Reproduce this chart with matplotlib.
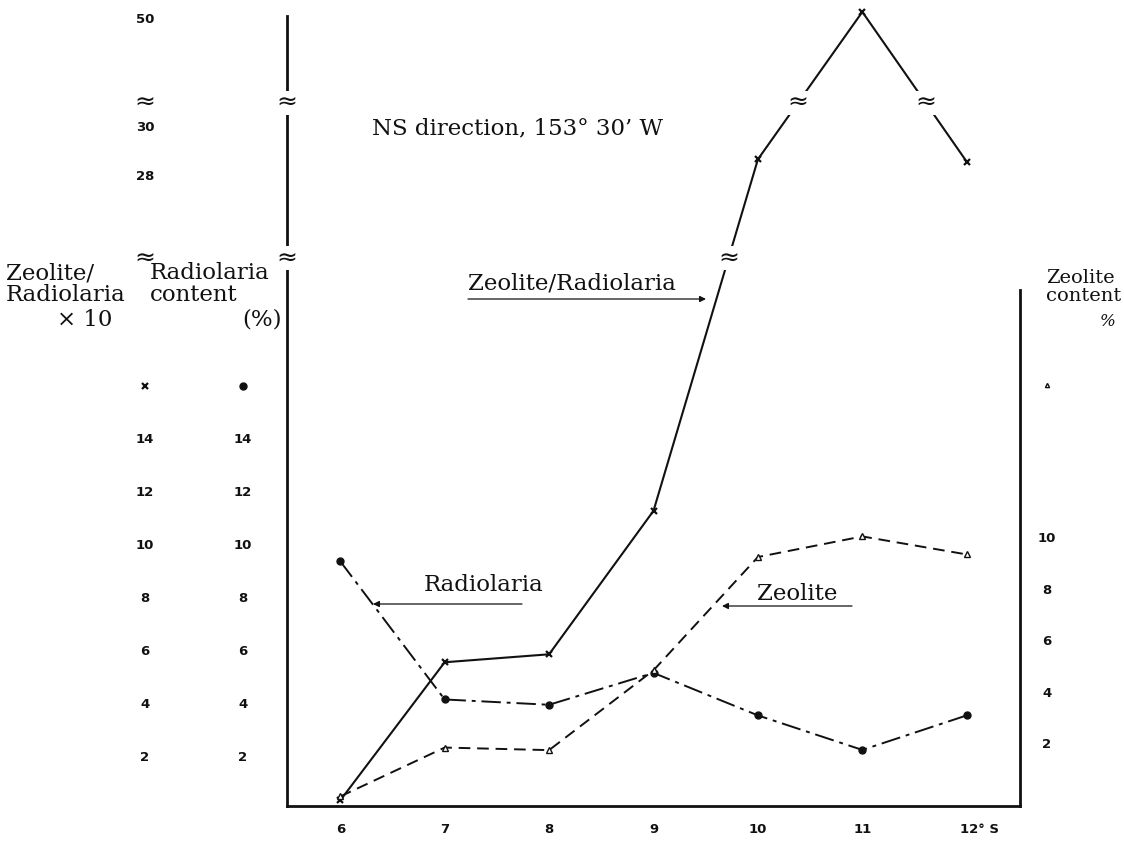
import numpy as np
import matplotlib
matplotlib.use("Agg")
import matplotlib.pyplot as plt
import matplotlib.transforms as mtransforms

# ---------------------------
# data
# ---------------------------
latitude = [6, 7, 8, 9, 10, 11, 12]
lat_labels = ["6", "7", "8", "9", "10", "11", "12° S"]
zeo_rad_x10 = [0.4, 5.6, 5.9, 11.3, 28.7, 50.3, 28.6]   # Zeolite/Radiolaria x 10
radiolaria = [9.4, 4.2, 4.0, 5.2, 3.6, 2.3, 3.6]         # Radiolaria content (%)
zeolite = [0.0, 1.9, 1.8, 4.9, 9.3, 10.1, 9.4]          # Zeolite content (%)

left_ticks = [2, 4, 6, 8, 10, 12, 14]
upper_ticks = [28, 30, 50]
right_ticks = [2, 4, 6, 8, 10]

# broken left axis: value -> height (px above the zero line)
brk_vals = [0, 20.8, 24.65, 31.0, 46.6, 55]
brk_h = [0, 553, 553.01, 708.5, 708.51, 915.5]


def fwd(v):
    return np.interp(v, brk_vals, brk_h)


def inv(h):
    return np.interp(h, brk_h, brk_vals)


W, H = 1124, 844


def fpos(x, y):
    # reference pixel -> figure fraction
    return x / W, 1 - y / H


fig = plt.figure(figsize=(W / 100, H / 100), dpi=100)
ax_l, ax_r, ax_b, ax_t = 287, 1020, 806, 5
ax = fig.add_axes([ax_l / W, 1 - ax_b / H, (ax_r - ax_l) / W, (ax_b - ax_t) / H])
ax.set_yscale("function", functions=(fwd, inv))
ax.set_xlim(5.49, 12.51)
ax.set_ylim(0.19, 50.58)

ax2 = ax.twinx()
ax2.set_ylim(-0.37, 30.74)

for a in (ax, ax2):
    a.patch.set_visible(False)
    for s in ("top", "right", "left", "bottom"):
        a.spines[s].set_visible(False)
    a.set_yticks([])

ink = "#111111"
ax.spines["left"].set_visible(True)
ax.spines["left"].set_bounds(0.19, 50.12)
ax.spines["bottom"].set_visible(True)
ax2.spines["right"].set_visible(True)
ax2.spines["right"].set_bounds(-0.37, 19.67)
for sp in (ax.spines["left"], ax.spines["bottom"], ax2.spines["right"]):
    sp.set_linewidth(2.0)
    sp.set_color(ink)

ax.set_xticks(latitude)
ax.set_xticklabels(lat_labels, fontsize=9.5, fontweight="bold", family="DejaVu Sans")
ax.tick_params(axis="x", length=0, pad=12, colors=ink)
last = ax.get_xticklabels()[-1]
last.set_transform(last.get_transform() + mtransforms.ScaledTranslation(9 / 72, 0, fig.dpi_scale_trans))

# series
ax.plot(latitude, zeo_rad_x10, color=ink, lw=1.5, marker="x", ms=4, mew=1.6)
ax.plot(latitude, radiolaria, color=ink, lw=1.4, dashes=(10, 3, 2, 3),
        marker="o", ms=5, mfc=ink, mec=ink)
ax2.plot(latitude, zeolite, color=ink, lw=1.4, dashes=(6, 3.5),
         marker="^", ms=4, mfc="white", mec=ink, mew=1.0)

# tick label columns
tick_font = dict(fontsize=9.5, fontweight="bold", family="DejaVu Sans", color=ink,
                 ha="center", va="center")
col1 = mtransforms.blended_transform_factory(ax.transAxes, ax.transData)
col_r = mtransforms.blended_transform_factory(ax.transAxes, ax2.transData)
x_c1 = (145 - ax_l) / (ax_r - ax_l)
x_c2 = (243 - ax_l) / (ax_r - ax_l)
x_cr = (1047 - ax_l) / (ax_r - ax_l)
for t in left_ticks:
    ax.text(x_c1, t, str(t), transform=col1, **tick_font)
    ax.text(x_c2, t, str(t), transform=col1, **tick_font)
for t in upper_ticks:
    ax.text(x_c1, t, str(t), transform=col1, **tick_font)
for t in right_ticks:
    ax.text(x_cr, t, str(t), transform=col_r, **tick_font)

# symbol keys above the tick columns
ax.plot([x_c1], [16], transform=col1, marker="x", ms=4, mew=1.6, color=ink, clip_on=False)
ax.plot([x_c2], [16], transform=col1, marker="o", ms=5, color=ink, clip_on=False)
ax2.plot([x_cr], [16], transform=col_r, marker="^", ms=3, mfc="white", mec=ink, clip_on=False)

# break marks
brk_font = dict(fontsize=18, color=ink, ha="center", va="center", family="DejaVu Sans")
low_break = 22.0   # any value inside the gap
high_break = 40.0
for yb in (low_break, high_break):
    ax.text(0, yb, "≈", transform=col1, bbox=dict(fc="white", ec="none", pad=0), **brk_font)
    ax.text(x_c1, yb, "≈", transform=col1, **brk_font)


def cross_point(i, yb):
    # where the segment i -> i+1 of zeo_rad_x10 meets the break height
    h0, h1 = fwd(zeo_rad_x10[i]), fwd(zeo_rad_x10[i + 1])
    t = (fwd(yb) - h0) / (h1 - h0)
    return latitude[i] + t * (latitude[i + 1] - latitude[i])


for i, yb in ((3, low_break), (4, high_break), (5, high_break)):
    ax.text(cross_point(i, yb), yb, "≈", bbox=dict(fc="white", ec="none", pad=0), **brk_font)

# text labels
serif = dict(family="DejaVu Serif", color=ink, fontsize=16.5)
fig.text(*fpos(372, 128), "NS direction, 153° 30’ W", va="center", ha="left", **serif)
fig.text(*fpos(6, 284), "Zeolite/\nRadiolaria", va="center", ha="left", linespacing=1.0, **serif)
fig.text(*fpos(85, 320), "× 10", va="center", ha="center", **serif)
fig.text(*fpos(150, 284), "Radiolaria\ncontent", va="center", ha="left", linespacing=1.0, **serif)
fig.text(*fpos(262, 320), "(%)", va="center", ha="center", **serif)
fig.text(*fpos(1046, 287), "Zeolite\ncontent", va="center", ha="left", linespacing=1.05,
         family="DejaVu Serif", color=ink, fontsize=14)
fig.text(*fpos(1108, 322), "%", va="center", ha="center", fontsize=12, family="DejaVu Serif",
         style="italic", color=ink)

fig.text(*fpos(468, 283), "Zeolite/Radiolaria", va="center", ha="left", **serif)
fig.text(*fpos(424, 585), "Radiolaria", va="center", ha="left", **serif)
fig.text(*fpos(757, 594), "Zeolite", va="center", ha="left", **serif)

arrow = dict(arrowstyle="-|>", color=ink, lw=0.9, mutation_scale=9, shrinkA=0, shrinkB=0)
ax.annotate("", xy=fpos(706, 299), xytext=fpos(468, 299), xycoords="figure fraction",
            textcoords="figure fraction", arrowprops=arrow)
ax.annotate("", xy=fpos(373, 604), xytext=fpos(522, 604), xycoords="figure fraction",
            textcoords="figure fraction", arrowprops=arrow)
ax.annotate("", xy=fpos(722, 606), xytext=fpos(852, 606), xycoords="figure fraction",
            textcoords="figure fraction", arrowprops=arrow)

fig.savefig("out.png", dpi=100, facecolor="white")
